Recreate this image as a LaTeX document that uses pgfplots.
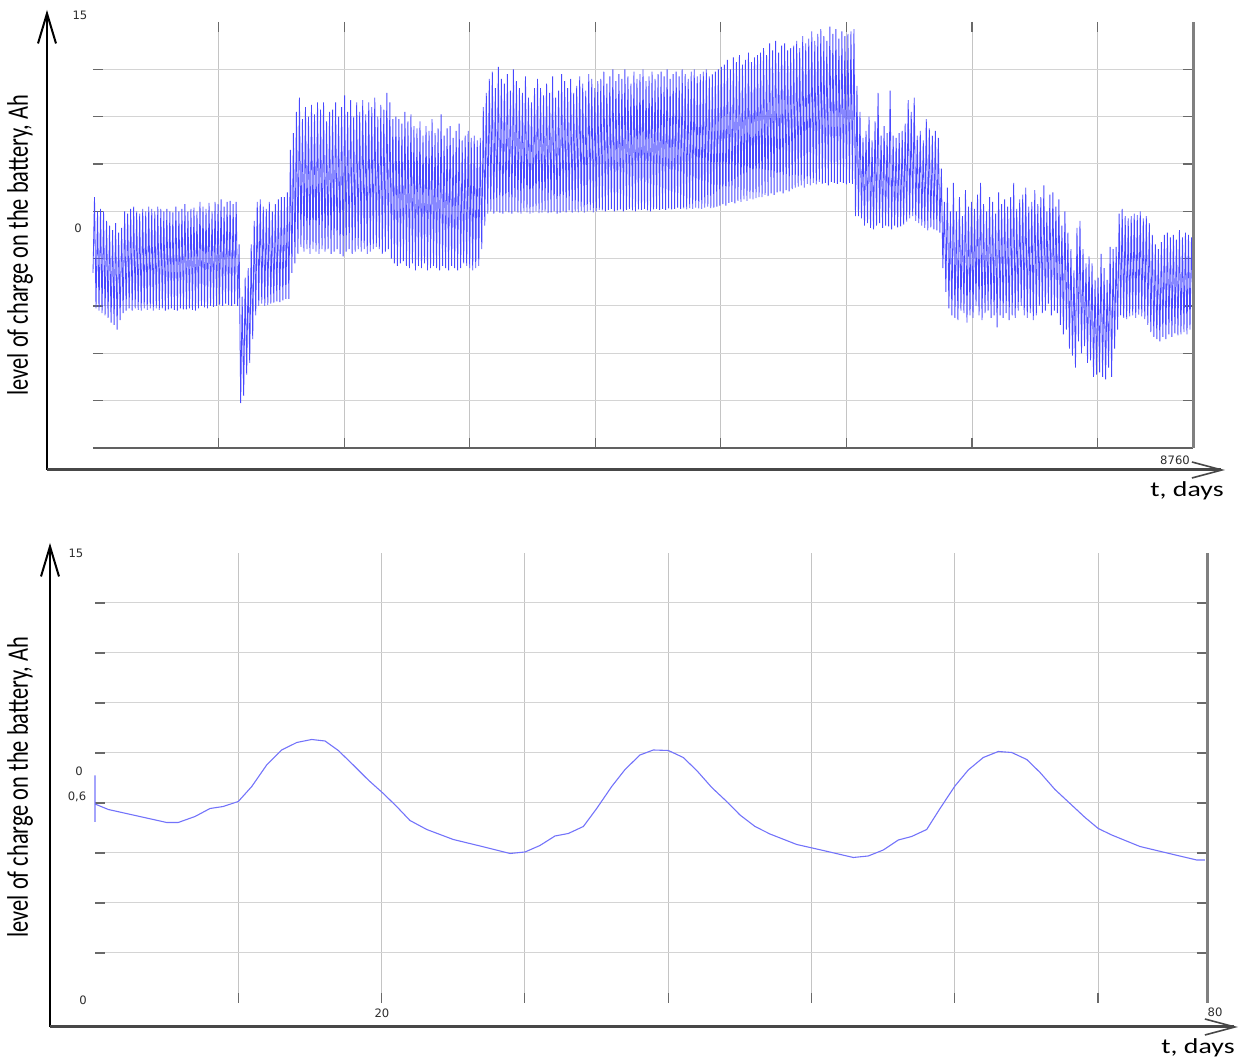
\documentclass[border=0pt]{standalone}
\usepackage{pgfplots}
\pgfplotsset{compat=1.18}
\usepackage{graphicx}
\usepackage{fontspec}
\setmainfont{Carlito}
\newfontfamily\tickfont{DejaVu Sans}
\usetikzlibrary{arrows.meta}

\definecolor{lineblue}{RGB}{72,72,255}
\definecolor{lineblue2}{RGB}{115,115,250}
\definecolor{gridc}{RGB}{212,212,212}
\definecolor{vgridc}{RGB}{196,196,196}
\definecolor{tickc}{RGB}{105,105,105}
\definecolor{borderc}{RGB}{128,128,128}
\definecolor{labc}{RGB}{45,45,45}

\pgfplotsset{
  panel/.style={
    scale only axis, anchor=south west,
    ymin=0, ymax=9, ytick={1,...,8}, yticklabels={}, xticklabels={},
    grid=major,
    y grid style={gridc, line width=0.5pt},
    x grid style={vgridc, line width=0.5pt},
    axis line style={draw=none},
    tick align=inside, major tick length=5pt,
    tick style={tickc, line width=0.6pt},
    clip=false,
  }
}
\newcommand{\tl}{\tickfont\fontsize{5.8}{6.5}\selectfont}

\begin{document}
\begin{tikzpicture}
\useasboundingbox (0,0) rectangle (624.5pt,529.5pt);

% ---------- top panel ----------
\begin{axis}[panel, at={(46.5pt,305.5pt)}, width=550pt, height=213pt,
  xmin=0, xmax=8760, xtick={1000,2000,...,8000}, xtick pos=both, ytick pos=both]
\addplot[lineblue, line width=0.42pt, mark=none] table[x expr=\coordindex*12, y index=0, header=false, row sep=\\] {
3.7\\
5.3\\2.95\\5.0\\2.9\\5.05\\2.85\\5.0\\2.8\\4.8\\2.75\\
4.7\\2.65\\4.6\\2.6\\4.75\\2.5\\4.55\\2.7\\4.65\\2.85\\
5.0\\2.9\\4.95\\2.95\\5.05\\2.9\\5.1\\2.95\\5.0\\2.92\\4.95\\2.9\\5.05\\2.95\\5.0\\2.92\\5.1\\2.95\\5.05\\2.9\\
5.0\\2.95\\5.1\\2.92\\5.05\\2.95\\5.0\\2.9\\5.05\\2.93\\5.0\\2.95\\4.98\\2.92\\5.1\\2.9\\5.0\\2.95\\5.05\\2.93\\
5.15\\2.93\\5.0\\2.95\\5.05\\2.92\\5.08\\2.9\\5.0\\2.95\\5.2\\3.0\\5.1\\2.97\\5.05\\2.95\\5.18\\3.0\\5.0\\2.98\\
5.2\\3.0\\5.15\\3.03\\5.25\\3.0\\5.1\\3.05\\5.2\\3.02\\5.22\\3.0\\5.15\\3.04\\5.2\\3.0\\
4.3\\0.95\\3.2\\1.1\\3.6\\1.55\\3.8\\1.8\\4.3\\2.3\\4.8\\2.8\\5.2\\3.0\\
5.25\\3.05\\5.1\\3.0\\5.05\\3.02\\5.2\\3.05\\5.0\\3.07\\5.15\\3.1\\5.25\\3.08\\5.3\\3.12\\5.3\\3.15\\5.4\\3.15\\
6.3\\3.7\\6.65\\3.9\\7.1\\4.1\\
7.4\\4.25\\6.95\\4.15\\7.2\\4.2\\7.0\\4.1\\7.25\\4.2\\7.05\\4.15\\7.3\\4.1\\7.15\\4.2\\7.3\\4.15\\6.9\\4.2\\
7.1\\4.1\\7.15\\4.15\\7.3\\4.2\\7.0\\4.1\\7.2\\4.05\\7.45\\4.15\\7.1\\4.2\\7.35\\4.1\\7.0\\4.15\\7.3\\4.2\\
7.1\\4.15\\7.35\\4.2\\7.05\\4.1\\7.3\\4.15\\7.2\\4.2\\7.4\\4.25\\7.0\\4.2\\7.25\\4.1\\7.15\\4.15\\7.5\\4.2\\7.3\\4.0\\6.95\\3.9\\7.0\\3.85\\6.95\\3.9\\
6.85\\3.95\\7.1\\3.85\\6.9\\3.8\\7.05\\3.9\\6.8\\3.75\\6.75\\3.85\\6.9\\3.8\\6.6\\3.9\\6.8\\3.75\\6.7\\3.8\\6.95\\3.85\\6.65\\3.8\\6.75\\3.75\\7.05\\3.85\\
6.6\\3.8\\6.75\\3.75\\6.8\\3.85\\6.55\\3.8\\6.7\\3.75\\6.85\\3.8\\6.5\\3.9\\6.6\\3.85\\6.7\\3.8\\6.55\\3.75\\6.6\\3.8\\6.5\\3.85\\6.55\\4.2\\
7.2\\4.7\\7.5\\4.95\\7.8\\5.0\\
7.95\\4.95\\7.6\\5.0\\8.05\\4.97\\7.8\\4.95\\7.7\\5.0\\7.9\\4.98\\7.55\\4.95\\8.0\\5.0\\7.75\\4.97\\7.6\\4.95\\7.5\\5.0\\7.85\\4.98\\7.4\\4.95\\7.3\\4.97\\7.6\\5.0\\7.8\\4.96\\
7.6\\4.97\\7.45\\5.0\\7.7\\4.96\\7.5\\4.98\\7.85\\5.0\\7.4\\4.95\\7.55\\4.97\\7.9\\5.0\\7.75\\4.98\\7.6\\5.02\\7.8\\4.97\\7.5\\5.0\\7.65\\4.98\\7.85\\5.01\\7.7\\4.97\\7.55\\5.0\\7.9\\5.02\\7.8\\4.98\\7.6\\5.0\\7.75\\5.03\\
7.8\\5.02\\7.95\\5.0\\7.7\\5.03\\7.85\\5.05\\8.0\\5.0\\7.75\\5.02\\7.9\\5.04\\7.8\\5.0\\8.0\\5.03\\7.85\\5.05\\7.7\\5.02\\7.95\\5.0\\7.8\\5.04\\7.9\\5.03\\8.0\\5.05\\7.75\\5.02\\7.85\\5.0\\7.95\\5.04\\7.8\\5.05\\7.9\\5.03\\
7.95\\5.05\\7.85\\5.03\\8.0\\5.06\\7.8\\5.04\\7.9\\5.05\\7.95\\5.08\\7.85\\5.05\\8.0\\5.06\\7.9\\5.04\\7.8\\5.07\\7.95\\5.05\\8.0\\5.08\\7.85\\5.06\\7.9\\5.05\\7.95\\5.08\\8.0\\5.1\\7.85\\5.07\\7.9\\5.08\\7.95\\5.1\\8.0\\5.12\\
8.05\\5.15\\8.1\\5.12\\8.2\\5.18\\8.0\\5.2\\8.25\\5.17\\8.15\\5.22\\8.3\\5.2\\8.1\\5.25\\8.2\\5.22\\8.35\\5.27\\8.15\\5.25\\8.25\\5.28\\8.3\\5.3\\
8.35\\5.3\\8.45\\5.35\\8.3\\5.32\\8.55\\5.38\\8.4\\5.35\\8.6\\5.4\\8.35\\5.42\\8.5\\5.38\\8.55\\5.45\\8.4\\5.42\\8.45\\5.47\\
8.5\\5.5\\8.6\\5.52\\8.45\\5.55\\8.7\\5.5\\8.55\\5.58\\8.65\\5.55\\8.8\\5.6\\8.6\\5.57\\8.75\\5.62\\8.85\\5.58\\8.7\\5.6\\8.6\\5.55\\8.9\\5.62\\8.75\\5.6\\8.85\\5.58\\8.65\\5.62\\8.8\\5.6\\8.7\\5.57\\8.75\\5.6\\8.8\\5.58\\8.85\\4.9\\
7.65\\4.9\\7.1\\4.85\\6.55\\4.7\\6.7\\4.75\\7.0\\4.65\\6.5\\4.62\\6.9\\4.7\\7.5\\4.75\\6.6\\4.65\\6.8\\4.7\\6.65\\4.68\\7.55\\4.62\\6.6\\4.7\\6.55\\4.66\\
6.65\\4.68\\6.7\\4.72\\6.85\\4.78\\7.35\\4.85\\7.1\\4.9\\7.4\\4.8\\6.6\\4.75\\6.7\\4.7\\6.5\\4.65\\6.95\\4.6\\6.75\\4.66\\6.6\\4.62\\6.7\\4.6\\6.55\\4.55\\
5.9\\3.8\\5.2\\3.3\\5.5\\2.95\\5.0\\2.8\\
5.6\\2.75\\5.0\\2.7\\5.3\\2.9\\4.9\\2.85\\5.45\\2.65\\5.1\\2.8\\5.2\\2.75\\5.05\\3.0\\5.35\\2.8\\5.6\\2.7\\
5.15\\2.85\\5.0\\2.9\\5.3\\2.75\\5.2\\2.8\\4.95\\2.55\\5.4\\2.8\\5.15\\2.75\\5.25\\2.85\\5.1\\2.7\\5.3\\2.8\\
5.6\\2.75\\5.05\\2.9\\5.25\\3.0\\5.35\\2.8\\5.5\\2.75\\5.1\\2.85\\5.2\\2.7\\5.45\\2.8\\5.15\\3.0\\5.3\\2.85\\
5.55\\2.9\\5.0\\3.05\\5.35\\2.8\\5.4\\2.9\\5.1\\2.85\\5.25\\2.6\\4.7\\2.4\\5.0\\2.5\\
4.55\\2.1\\4.2\\1.95\\3.75\\1.7\\4.65\\2.25\\4.8\\2.0\\4.2\\2.15\\3.9\\1.8\\4.05\\1.85\\3.9\\1.5\\3.55\\1.55\\
3.6\\1.6\\4.1\\1.5\\3.8\\1.45\\3.55\\1.7\\4.25\\1.5\\4.2\\2.1\\4.25\\2.5\\
4.95\\2.8\\5.05\\2.75\\4.9\\2.72\\4.85\\2.78\\4.9\\2.8\\4.95\\2.75\\4.92\\2.82\\5.0\\2.78\\4.85\\2.72\\4.9\\2.6\\4.75\\2.45\\4.5\\2.35\\
4.3\\2.3\\4.2\\2.25\\4.35\\2.35\\4.5\\2.3\\4.55\\2.4\\4.45\\2.35\\4.5\\2.42\\4.4\\2.38\\4.6\\2.4\\4.45\\2.45\\4.55\\2.4\\4.5\\2.5\\4.45\\2.9\\
};
\draw[black!62, line width=0.6pt] (rel axis cs:0,0) -- (rel axis cs:1,0);
\draw[borderc, line width=1.5pt] (rel axis cs:1,0) -- (rel axis cs:1,1);
\end{axis}

% ---------- bottom panel ----------
\begin{axis}[panel, at={(47.5pt,28pt)}, width=556pt, height=225pt,
  xmin=0, xmax=77.6, xtick={10,20,...,70}, xtick pos=left, ytick pos=both]
\addplot[lineblue2, line width=0.55pt, mark=none] coordinates {
(0,4.55) (0,3.62) (0,3.98) (0.93,3.87) (5.0,3.61) (5.81,3.61) (6.98,3.73) (8.03,3.89) (8.95,3.93)
(10.0,4.03) (10.94,4.33) (11.98,4.76) (13.03,5.06) (14.08,5.21) (15.12,5.27) (16.05,5.24)
(16.98,5.05) (18.02,4.76) (19.07,4.46) (20.12,4.19) (21.05,3.93) (21.98,3.65) (23.15,3.47)
(25.0,3.27) (26.87,3.14) (28.96,2.99) (30.01,3.02) (31.05,3.15) (32.1,3.34) (33.03,3.39)
(34.08,3.53) (35.01,3.89) (36.06,4.33) (36.99,4.67) (38.03,4.96) (38.96,5.06) (40.01,5.05)
(41.05,4.91) (41.99,4.65) (43.04,4.31) (44.08,4.03) (45.01,3.76) (46.06,3.53) (47.1,3.38)
(48.97,3.17) (50.82,3.05) (52.92,2.91) (53.96,2.94) (55.01,3.06) (56.06,3.26) (56.99,3.33)
(58.04,3.47) (58.97,3.89) (60.01,4.34) (60.94,4.66) (61.99,4.91) (63.04,5.03) (63.97,5.01)
(65.02,4.87) (65.95,4.61) (66.99,4.27) (68.04,3.99) (69.09,3.71) (70.01,3.49) (70.95,3.36)
(72.92,3.13) (75.25,2.97) (76.88,2.86) (77.46,2.86)
};
\draw[borderc, line width=1.5pt] (rel axis cs:1,0) -- (rel axis cs:1,1);
\end{axis}

% ---------- hand-drawn axes ----------
\draw[black, line width=1pt, -{Straight Barb[length=15pt,width=9pt]}] (23.5pt,294.5pt) -- (23.5pt,524.5pt);
\draw[black!72, line width=1.5pt, -{Straight Barb[length=15pt,width=8pt,line width=0.8pt]}] (23.5pt,294.5pt) -- (612.5pt,294.5pt);
\draw[black, line width=1pt, -{Straight Barb[length=15pt,width=9pt]}] (25pt,16pt) -- (25pt,258pt);
\draw[black!72, line width=1.5pt, -{Straight Barb[length=15pt,width=8pt,line width=0.8pt]}] (25pt,16pt) -- (619pt,16pt);

% ---------- titles ----------
\node[rotate=90, font=\fontsize{11.2}{13}\selectfont] at (10pt,407pt) {\scalebox{1}[1.33]{level of charge on the battery, Ah}};
\node[rotate=90, font=\fontsize{11.2}{13}\selectfont] at (10pt,136pt) {\scalebox{1}[1.33]{level of charge on the battery, Ah}};
\node[anchor=base, font=\fontsize{10.7}{12}\selectfont] at (593.5pt,281pt) {\scalebox{1.3}[1]{t, days}};
\node[anchor=base, font=\fontsize{10.7}{12}\selectfont] at (599pt,2.5pt) {\scalebox{1.3}[1]{t, days}};

% ---------- tick labels ----------
\node[font=\tl, text=labc] at (40pt,522pt) {15};
\node[font=\tl, text=labc] at (39pt,415.5pt) {0};
\node[font=\tl, text=labc] at (587.5pt,299.5pt) {8760};
\node[font=\tl, text=labc] at (38pt,253pt) {15};
\node[font=\tl, text=labc] at (39.5pt,144pt) {0};
\node[font=\tl, text=labc] at (38.5pt,131pt) {0,6};
\node[font=\tl, text=labc] at (41.5pt,29.5pt) {0};
\node[font=\tl, text=labc] at (191pt,23pt) {20};
\node[font=\tl, text=labc] at (607.5pt,23.5pt) {80};
\end{tikzpicture}
\end{document}
